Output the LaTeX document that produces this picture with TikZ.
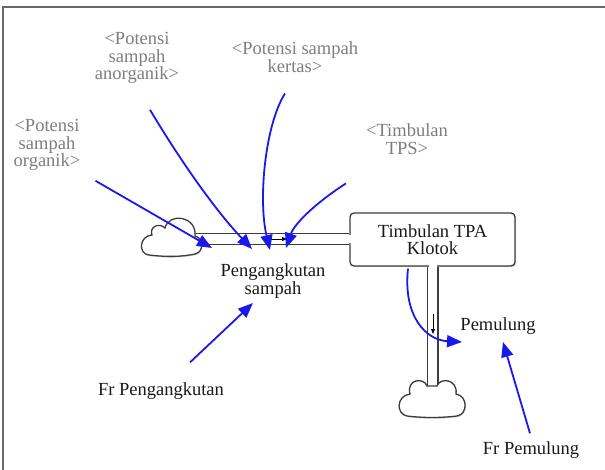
\documentclass[tikz,border=0pt]{standalone}
\usepackage{fontspec}
\setmainfont{Liberation Serif}
\usetikzlibrary{arrows.meta,calc,shadows}
\pgfdeclarelayer{background}
\pgfsetlayers{background,main}
\definecolor{flowblue}{RGB}{25,25,235}
\definecolor{ghostgray}{RGB}{125,125,125}
\definecolor{pipegray}{RGB}{60,60,60}
\definecolor{framegray}{RGB}{105,105,105}
\definecolor{textblack}{RGB}{25,25,25}
\begin{document}
\begin{tikzpicture}[x=1pt,y=-1pt,
  lbl/.style={font=\fontsize{18.5}{17.5}\selectfont, align=center, inner sep=0pt, text=textblack},
  ghost/.style={lbl, text=ghostgray},
  infl/.style={draw=flowblue, line width=1.8pt, -{Triangle[length=15pt,width=12pt]}},
  pipe/.style={draw=pipegray, line width=1.3pt},
  cloudline/.style={pipe, fill=white, drop shadow={shadow xshift=0.8pt, shadow yshift=-1.2pt, opacity=0.35}},
  stockbox/.style={lbl, rectangle, rounded corners=4pt, draw=pipegray, line width=1.3pt, fill=white, minimum width=165, minimum height=53,
    drop shadow={shadow xshift=1.2pt, shadow yshift=-1.2pt, opacity=0.3}},
  valvetip/.style={draw=black, line width=0.7pt, -{Triangle[length=5pt,width=4pt]}},
  srccloud/.pic={\path[cloudline] (-22,18) .. controls (-5,20) and (10,20) .. (24,17)
      .. controls (33,15) and (33,1) .. (24,-1)
      .. controls (26,-21) and (-2,-25) .. (-6,-9)
      .. controls (-12,-15) and (-22,-10) .. (-19,-2)
      .. controls (-32,-1) and (-33,17) .. (-22,18) -- cycle;},
  sinkcloud/.pic={\path[cloudline] (-25,18) .. controls (-8,20) and (8,20) .. (25,18)
      .. controls (36,16) and (36,-2) .. (24,-4)
      .. controls (26,-19) and (8,-21) .. (5,-12)
      -- (-5,-12)
      .. controls (-8,-21) and (-26,-19) .. (-22,-4)
      .. controls (-36,-2) and (-36,16) .. (-25,18) -- cycle;}]

\useasboundingbox (0,0) rectangle (605,470);
\draw[framegray, line width=1.6pt] (3,470) -- (3,7) -- (605,7);

% stock and clouds
\node[stockbox] (stock) at (432.5,239.5) {Timbulan TPA\\Klotok};
\coordinate (src) at (171,237);
\coordinate (snk) at (432,398);
\pic at (src) {srccloud};
\pic at (snk) {sinkcloud};

% pipes
\begin{pgfonlayer}{background}
  \draw[pipe] (186,233.5) -- (stock.west |- 0,233.5);
  \draw[pipe] (186,244.5) -- (stock.west |- 0,244.5);
  \draw[pipe] (stock.south -| 427.5,0) -- (snk -| 427.5,0);
  \draw[pipe] (stock.south -| 438,0) -- (snk -| 438,0);
\end{pgfonlayer}
% openings of the pipes into the stock
\fill[white] (348.5,235) rectangle (351.8,243);
\fill[white] (429,264.5) rectangle (436.5,268);

% valves
\coordinate (v1a) at (266,239);
\coordinate (v1b) at (287,239);
\draw[valvetip] (v1a) -- (v1b);
\coordinate (v2a) at (433,314);
\coordinate (v2b) at (433,334);
\draw[valvetip] (v2a) -- (v2b);

% labels
\node[ghost] (org) at (47,145) {<Potensi\\sampah\\organik>};
\node[ghost] (anorg) at (137,58) {<Potensi\\sampah\\anorganik>};
\node[ghost] (kert) at (295,57) {<Potensi sampah\\kertas>};
\node[ghost] (tps) at (407,139) {<Timbulan\\TPS>};
\node[lbl] (peng) at (273,281) {Pengangkutan\\sampah};
\node[lbl] (pem) at (498,326) {Pemulung};
\node[lbl] (frpeng) at (161,391) {Fr Pengangkutan};
\node[lbl] (frpem) at (531,450) {Fr Pemulung};

% arrow tips
\coordinate (t1) at (212,248);
\coordinate (t2) at (252,249);
\coordinate (t3) at (270,250);
\coordinate (t4) at (286,248);
\coordinate (t5) at (253,303);
\coordinate (t6) at (503,342);
\coordinate (t7) at (462,342);

% influences
\draw[infl] ([shift={(15,10)}]org.south east) -- (t1);
\draw[infl] ([shift={(13,26)}]anorg.south) .. controls (180,160) and (215,210) .. (t2);
\draw[infl] ([shift={(-10,21)}]kert.south) .. controls (265,125) and (258,200) .. (t3);
\draw[infl] ([shift={(-20,29)}]tps.south west) .. controls (320,200) and (295,222) .. (t4);
\draw[infl] ([shift={(29,-20)}]frpeng.north) -- (t5);
\draw[infl] ([shift={(-1,-8)}]frpem.north) -- (t6);
\draw[infl] ([shift={(-24.5,2)}]stock.south) .. controls (403,315) and (425,340) .. (t7);
\end{tikzpicture}
\end{document}
